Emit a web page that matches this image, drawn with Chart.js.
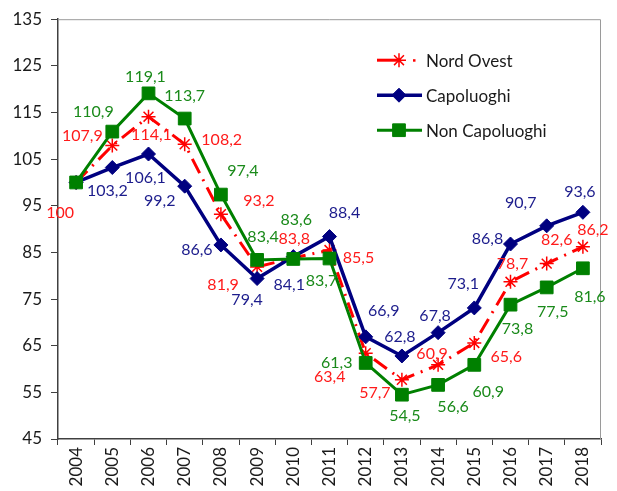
<!DOCTYPE html>
<html>
<head>
<meta charset="utf-8">
<script src="https://cdn.jsdelivr.net/npm/chart.js@4/dist/chart.umd.min.js"></script>
<style>
  html, body { margin: 0; padding: 0; background: #ffffff; }
  #wrap { width: 617px; height: 491px; position: relative; }
</style>
</head>
<body>
<div id="wrap"><canvas id="c" width="617" height="491"></canvas></div>
<script>
// ---- data ----
const years = ['2004','2005','2006','2007','2008','2009','2010','2011','2012','2013','2014','2015','2016','2017','2018'];
const nordOvest      = [100, 107.9, 114.1, 108.2, 93.2, 81.9, 83.8, 85.5, 63.4, 57.7, 60.9, 65.6, 78.7, 82.6, 86.2];
const capoluoghi     = [100, 103.2, 106.1, 99.2, 86.6, 79.4, 84.1, 88.4, 66.9, 62.8, 67.8, 73.1, 86.8, 90.7, 93.6];
const nonCapoluoghi  = [100, 110.9, 119.1, 113.7, 97.4, 83.4, 83.6, 83.7, 61.3, 54.5, 56.6, 60.9, 73.8, 77.5, 81.6];
const seriesNames    = ['Nord Ovest', 'Capoluoghi', 'Non Capoluoghi'];
const yTicks = { min: 45, max: 135, step: 10 };

// ---- label placement (pixel offsets of each value label from its point) ----
const nordOvestLabelOffsets = [[-16,30],[-30,-10],[3,18],[37,-4],[38,-13],[-34,18],[1,-19],[29,8],[-36,24],[-27,13],[-6,-11],[32,14],[2,-18],[10,-24],[10,-17]];
const capoluoghiLabelOffsets = [[0,0],[-5,23],[-3,24],[-25,15],[-24,5],[-10,21],[-4,28],[15,-24],[18,-26],[-2,-19],[-3,-17],[-11,-24],[-23,-5],[-26,-23],[-3,-20]];
const nonCapoluoghiLabelOffsets = [[0,0],[-19,-20],[-3,-17],[0,-23],[22,-24],[6,-23],[3,-39],[-8,22],[-29,0],[3,21],[15,22],[14,27],[7,24],[6,24],[7,29]];
const showLabel = [[true,true,true,true,true,true,true,true,true,true,true,true,true,true,true],
                   [false,true,true,true,true,true,true,true,true,true,true,true,true,true,true],
                   [false,true,true,true,true,true,true,true,true,true,true,true,true,true,true]];

const RED = '#FF0000', BLUE = '#000080', GREEN = '#008000';
const FONT = 'Lato, "Open Sans", sans-serif';
const fmt = v => String(v).replace('.', ',');

const labelPlugin = {
  id: 'valueLabels',
  afterDatasetsDraw(chart) {
    const ctx = chart.ctx;
    const offs = [nordOvestLabelOffsets, capoluoghiLabelOffsets, nonCapoluoghiLabelOffsets];
    ctx.save();
    ctx.font = '16px ' + FONT;
    ctx.textAlign = 'center';
    ctx.textBaseline = 'middle';
    chart.data.datasets.forEach((ds, di) => {
      const meta = chart.getDatasetMeta(di);
      meta.data.forEach((pt, i) => {
        if (!showLabel[di][i]) return;
        ctx.fillStyle = ds.labelColor;
        ctx.fillText(fmt(ds.data[i]), pt.x + offs[di][i][0], pt.y + offs[di][i][1]);
      });
    });
    ctx.restore();
  }
};

const framePlugin = {
  id: 'frame',
  beforeDatasetsDraw(chart) {
    const { ctx, chartArea: a } = chart;
    ctx.save();
    ctx.strokeStyle = '#9a9a9a';
    ctx.lineWidth = 1;
    ctx.beginPath();
    ctx.moveTo(a.left, a.top + 0.5);
    ctx.lineTo(a.right - 0.5, a.top + 0.5);
    ctx.lineTo(a.right - 0.5, a.bottom);
    ctx.stroke();
    ctx.restore();
  }
};

const legendPlugin = {
  id: 'customLegend',
  afterDraw(chart) {
    const { ctx, chartArea: a } = chart;
    const x0 = a.left + 319, x1 = a.left + 364, xm = a.left + 341, tx = a.left + 368;
    const rows = [a.top + 41, a.top + 76, a.top + 111];
    ctx.save();
    chart.data.datasets.forEach((ds, di) => {
      const y = rows[di];
      ctx.strokeStyle = ds.borderColor;
      ctx.lineWidth = ds.borderWidth;
      ctx.setLineDash([]);
      ctx.beginPath();
      ctx.moveTo(x0, y);
      ctx.lineTo(di === 0 ? xm + 2 : x1, y);
      ctx.stroke();
      if (di === 0) {
        ctx.fillStyle = ds.borderColor;
        ctx.fillRect(xm + 14, y - 1, 2.5, 2.5);
      }
      ctx.strokeStyle = ds.pointBorderColor;
      ctx.fillStyle = ds.pointBackgroundColor;
      ctx.lineWidth = ds.pointBorderWidth;
      Chart.helpers.drawPoint(ctx, { pointStyle: ds.pointStyle, radius: ds.pointRadius, borderWidth: ds.pointBorderWidth, rotation: 0 }, xm, y);
      ctx.fillStyle = '#1a1a1a';
      ctx.font = '17px ' + FONT;
      ctx.textAlign = 'left';
      ctx.textBaseline = 'middle';
      ctx.fillText(seriesNames[di], tx, y + 1);
    });
    ctx.restore();
  }
};

new Chart(document.getElementById('c'), {
  type: 'line',
  data: {
    labels: years,
    datasets: [
      {
        label: seriesNames[0], data: nordOvest, order: 2,
        borderColor: RED, backgroundColor: RED, labelColor: '#FF1a1a',
        borderWidth: 3, borderDash: [16, 7, 2, 7],
        pointStyle: 'star', pointRadius: 7, pointBorderWidth: 1.5,
        pointBorderColor: RED, pointBackgroundColor: RED, tension: 0
      },
      {
        label: seriesNames[1], data: capoluoghi, order: 1,
        borderColor: BLUE, backgroundColor: BLUE, labelColor: '#1c1c8c',
        borderWidth: 3.5,
        pointStyle: 'rectRot', pointRadius: 7, pointBorderWidth: 1,
        pointBorderColor: BLUE, pointBackgroundColor: BLUE, tension: 0
      },
      {
        label: seriesNames[2], data: nonCapoluoghi, order: 0,
        borderColor: GREEN, backgroundColor: GREEN, labelColor: '#1a8a1a',
        borderWidth: 3,
        pointStyle: 'rect', pointRadius: 9, pointBorderWidth: 1,
        pointBorderColor: GREEN, pointBackgroundColor: GREEN, tension: 0
      }
    ]
  },
  options: {
    responsive: false,
    animation: false,
    devicePixelRatio: 1,
    layout: { padding: { top: 15, right: 16, left: 0, bottom: 0 } },
    plugins: { legend: { display: false }, tooltip: { enabled: false } },
    scales: {
      x: {
        offset: true,
        grid: { offset: true, drawOnChartArea: false, drawTicks: true, tickLength: 6, color: '#404040', lineWidth: 1 },
        border: { display: true, color: '#404040', width: 1.5 },
        ticks: { color: '#1a1a1a', font: { family: FONT, size: 17 }, minRotation: 90, maxRotation: 90, padding: 2, autoSkip: false },
        afterFit(scale) { scale.height = 52; }
      },
      y: {
        min: yTicks.min, max: yTicks.max,
        grid: { drawOnChartArea: false, drawTicks: true, tickLength: 7, color: '#404040' },
        border: { display: true, color: '#404040', width: 1.5 },
        ticks: { stepSize: yTicks.step, color: '#1a1a1a', font: { family: FONT, size: 17 }, padding: 9 },
        afterFit(scale) { scale.width = 58; }
      }
    }
  },
  plugins: [framePlugin, labelPlugin, legendPlugin]
});
</script>
</body>
</html>
